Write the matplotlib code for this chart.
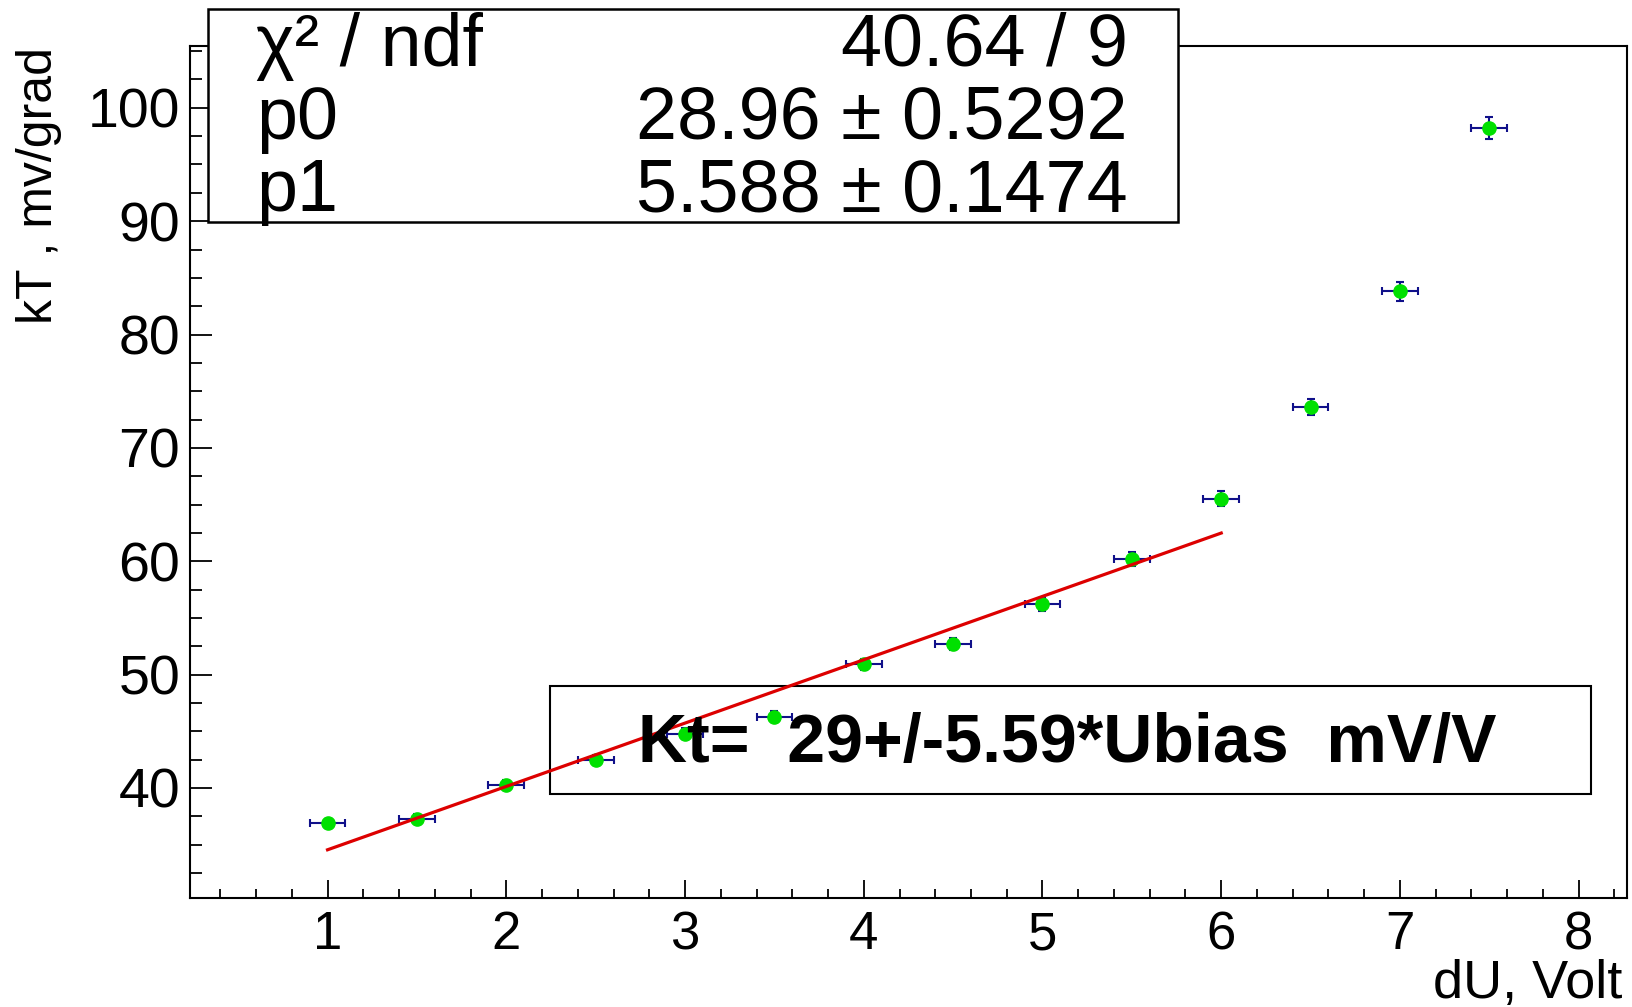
import numpy as np
import matplotlib
matplotlib.use("Agg")
import matplotlib.pyplot as plt
from matplotlib.patches import Rectangle
from matplotlib.ticker import MultipleLocator

plt.rcParams['font.family'] = ['Liberation Sans', 'DejaVu Sans']

# measured points
du_volt = [1.0, 1.5, 2.0, 2.5, 3.0, 3.5, 4.0, 4.5, 5.0, 5.5, 6.0, 6.5, 7.0, 7.5]
kt_mv = [36.9, 37.3, 40.3, 42.5, 44.8, 46.3, 50.9, 52.7, 56.2, 60.2, 65.5, 73.6, 83.8, 98.2]
du_err = [0.1] * 14
kt_err = [0.37, 0.37, 0.40, 0.43, 0.45, 0.46, 0.51, 0.53, 0.56, 0.60, 0.66, 0.74, 0.84, 0.98]

# linear fit result (pol1) and its range
p0, p0_err = 28.96, 0.5292
p1, p1_err = 5.588, 0.1474
chi2, ndf = 40.64, 9
fit_range = (1.0, 6.0)

fig = plt.figure(figsize=(16.33, 10.07), dpi=100)
ax = fig.add_axes([0.1163, 0.1083, 0.88, 0.846])

ax.errorbar(du_volt, kt_mv, xerr=du_err, yerr=kt_err, fmt='none',
            ecolor='#10108a', elinewidth=1.5, capsize=3, capthick=1.5, zorder=3)
ax.plot(du_volt, kt_mv, 'o', color='#00e000', markersize=9.5, zorder=4)

xf = np.linspace(fit_range[0], fit_range[1], 50)
ax.plot(xf, p0 + p1 * xf, color='#dd0000', lw=2.3, zorder=5)

ax.set_xlim(0.23, 8.27)
ax.set_ylim(30.3, 105.45)
ax.xaxis.set_major_locator(MultipleLocator(1))
ax.xaxis.set_minor_locator(MultipleLocator(0.2))
ax.yaxis.set_major_locator(MultipleLocator(10))
ax.yaxis.set_minor_locator(MultipleLocator(2.5))
ax.tick_params(which='both', direction='in', top=False, right=False, width=1.3)
ax.tick_params(axis='x', which='major', length=13, labelsize=38, pad=9)
ax.tick_params(axis='x', which='minor', length=6.5)
ax.tick_params(axis='y', which='major', length=16, labelsize=40, pad=7)
ax.tick_params(axis='y', which='minor', length=8.5)
for s in ax.spines.values():
    s.set_linewidth(1.5)

fig.text(0.9935, 0.009, 'dU, Volt', ha='right', va='baseline', fontsize=39)
fig.text(0.024, 0.953, 'kT , mv/grad', rotation=90, ha='center', va='top', fontsize=36)

# stats box
fig.patches.append(Rectangle((0.1274, 0.7795), 0.594, 0.2112, transform=fig.transFigure,
                             facecolor='white', edgecolor='black', lw=1.8, zorder=10))
rows = [('χ² / ndf', f'{chi2:.2f} / {ndf}'),
        ('p0', f'{p0:.2f} ± {p0_err:.4f}'),
        ('p1', f'{p1:.3f} ± {p1_err:.4f}')]
for i, (name, val) in enumerate(rows):
    yb = 1 - (66 + 72.5 * i) / 1007
    fig.text(0.1568, yb, name, ha='left', va='baseline', fontsize=53, zorder=11)
    fig.text(0.6905, yb, val, ha='right', va='baseline', fontsize=53, zorder=11)

# result box
fig.patches.append(Rectangle((0.3368, 0.2115), 0.6375, 0.1073, transform=fig.transFigure,
                             facecolor='white', edgecolor='black', lw=1.5, zorder=2))
ax.set_zorder(3)
ax.patch.set_alpha(0)
fig.text(0.6535, 1 - 761.7 / 1007, 'Kt=  29+/-5.59*Ubias  mV/V', ha='center', va='baseline',
         fontsize=49, fontweight='bold', zorder=12)

fig.savefig('out.png', dpi=100)
